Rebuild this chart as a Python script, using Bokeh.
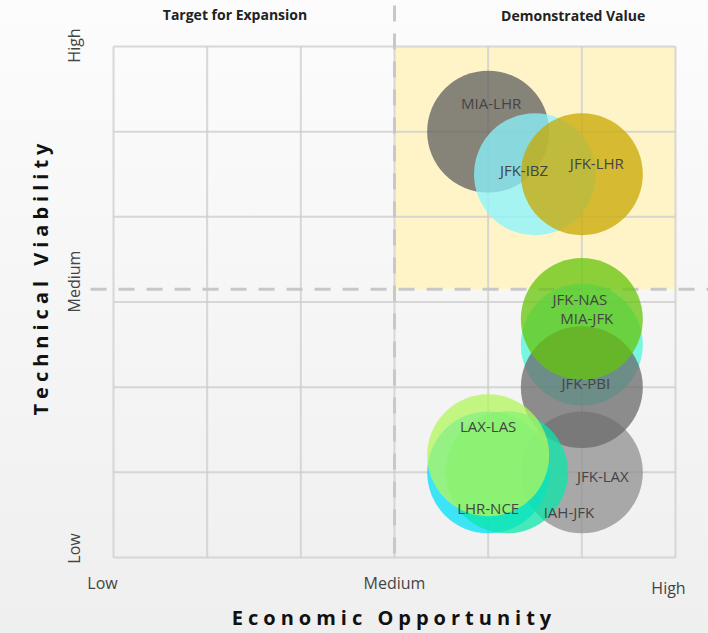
import math
from bokeh.plotting import figure
from bokeh.models import Range1d, Label, ColumnDataSource
from bokeh.layouts import row, column
from bokeh.core.properties import value
from bokeh.embed import file_html
from bokeh.resources import INLINE

# ---------------- data ----------------
routes = ["MIA-LHR", "JFK-IBZ", "JFK-LHR", "JFK-LAX", "MIA-JFK",
          "JFK-PBI", "JFK-NAS", "LHR-NCE", "IAH-JFK", "LAX-LAS"]
economic = [4.0, 4.5, 5.0, 5.0, 5.0, 5.0, 5.0, 4.0, 4.2, 4.0]
technical = [5.0, 4.5, 4.5, 1.0, 2.5, 2.0, 2.8, 1.0, 1.0, 1.2]
colors = ["#5e5e5f", "#88f4ff", "#c8a800", "#8f8f8f", "#4ff5db",
          "#696969", "#66c40a", "#00def8", "#0ae6aa", "#b3f55c"]
# label offsets from bubble centre, screen px (dx right, dy down)
label_dx = [3, -11, 15, 21, 5, 4, -2, 0, 62, 0]
label_dy = [-29, -4, -11, 4, -27, -4, -20, 36, 40, -29]

x_ticks = [0, 3, 6]
x_tick_labels = ["Low", "Medium", "High"]
y_ticks = [0, 3, 6]
y_tick_labels = ["Low", "Medium", "High"]
grid_x = [0, 1, 2, 3, 4, 5, 6]
grid_y = [0, 1, 2, 3, 4, 5, 6]
x_mid = 3.0
y_mid = 3.15
x_max = 6.0
y_max = 6.0

# ---------------- geometry (page px) ----------------
PW, PH = 708, 633
GL, GR, GT, GB = 113, 675, 46, 557
XPER = (GR - GL) / 6.0
YPER = (GB - GT) / 6.0
FONT = "Open Sans"
LS = 5  # letter spacing of axis titles, px


def dx(p):
    return (p - GL) / XPER


def dy(p):
    return (GB - p) / YPER


def make_fig(x0, y0, x1, y1, **kw):
    f = figure(width=x1 - x0, height=y1 - y0, output_backend="svg",
               toolbar_location=None,
               x_range=Range1d(dx(x0), dx(x1)), y_range=Range1d(dy(y1), dy(y0)),
               x_axis_location=None, y_axis_location=None,
               min_border=0, title=None, tools="", **kw)
    f.grid.visible = False
    f.outline_line_color = None
    f.background_fill_color = None
    f.border_fill_color = None
    return f


LEFT_W = 56
MAIN_H = 598

# ---------------- main plot ----------------
p = make_fig(LEFT_W, 0, PW, MAIN_H)

p.quad(left=[x_mid], right=[x_max], bottom=[y_mid], top=[y_max],
       fill_color="#fff4c8", line_color=None)

p.segment(x0=grid_x, y0=[grid_y[0]] * len(grid_x), x1=grid_x,
          y1=[grid_y[-1]] * len(grid_x), line_color="#cccccc",
          line_alpha=0.75, line_width=2)
p.segment(x0=[grid_x[0]] * len(grid_y), y0=grid_y, x1=[grid_x[-1]] * len(grid_y),
          y1=grid_y, line_color="#cccccc", line_alpha=0.75, line_width=2)

p.segment(x0=[x_mid], y0=[dy(5)], x1=[x_mid], y1=[dy(565)],
          line_color="#c8c8c8", line_width=3, line_dash="16 12")
p.segment(x0=[dx(90)], y0=[y_mid], x1=[dx(PW + 5)], y1=[y_mid],
          line_color="#c8c8c8", line_width=3, line_dash="16 12")

src = ColumnDataSource(dict(x=economic, y=technical, c=colors, route=routes))
p.scatter("x", "y", source=src, size=122, fill_color="c", fill_alpha=0.75,
          line_color=None)

lx = [x + ddx / XPER for x, ddx in zip(economic, label_dx)]
ly = [y - ddy / YPER for y, ddy in zip(technical, label_dy)]
p.text(x=lx, y=ly, text=routes, text_font=value(FONT),
       text_font_size="15px", text_color="#444444", text_align="center",
       text_baseline="middle")

x_lab_px = [(102, 582), (394, 582), (668, 587)]
for (xp, yp), t in zip(x_lab_px, x_tick_labels):
    p.add_layout(Label(x=dx(xp), y=dy(yp), text=t, text_font=FONT,
                       text_font_size="16px", text_color="#444444",
                       text_align="center", text_baseline="middle"))
y_lab_px = [(73, 548), (73, 281), (73, 45)]
for (xp, yp), t in zip(y_lab_px, y_tick_labels):
    p.add_layout(Label(x=dx(xp), y=dy(yp), text=t, text_font=FONT,
                       text_font_size="16px", text_color="#444444",
                       text_align="center", text_baseline="middle",
                       angle=math.pi / 2))

p.add_layout(Label(x=dx(234.5), y=dy(14), text="Target for Expansion",
                   text_font=FONT, text_font_size="14px", text_font_style="bold",
                   text_color="#222222", text_align="center",
                   text_baseline="middle"))
p.add_layout(Label(x=dx(572.7), y=dy(15), text="Demonstrated Value",
                   text_font=FONT, text_font_size="14px", text_font_style="bold",
                   text_color="#222222", text_align="center",
                   text_baseline="middle"))

# ---------------- axis titles (letter-spaced) ----------------
ls = {"letter-spacing": "%dpx" % LS}
ytitle = "Technical Viability"
xtitle = "Economic Opportunity"
yt = make_fig(0, 0, LEFT_W, PH, styles=ls)
# the extra letter spacing is not measured by the renderer: re-centre
yt.add_layout(Label(x=dx(40), y=dy(279 + LS * (len(ytitle) - 1) / 2),
                    text=ytitle, text_font=FONT, text_font_size="20px",
                    text_font_style="bold", text_color="#111111",
                    text_align="center", text_baseline="middle",
                    angle=math.pi / 2))

xt = make_fig(LEFT_W, MAIN_H, PW, PH, styles=ls)
xt.add_layout(Label(x=dx(391 - LS * (len(xtitle) - 1) / 2), y=dy(617),
                    text=xtitle, text_font=FONT, text_font_size="20px",
                    text_font_style="bold", text_color="#111111",
                    text_align="center", text_baseline="middle"))

layout = row(yt, column(p, xt, spacing=0), spacing=0,
             styles={"background": "linear-gradient(to bottom, #fcfcfc, #efefef)"})
open("out.html", "w").write(file_html(layout, INLINE))
